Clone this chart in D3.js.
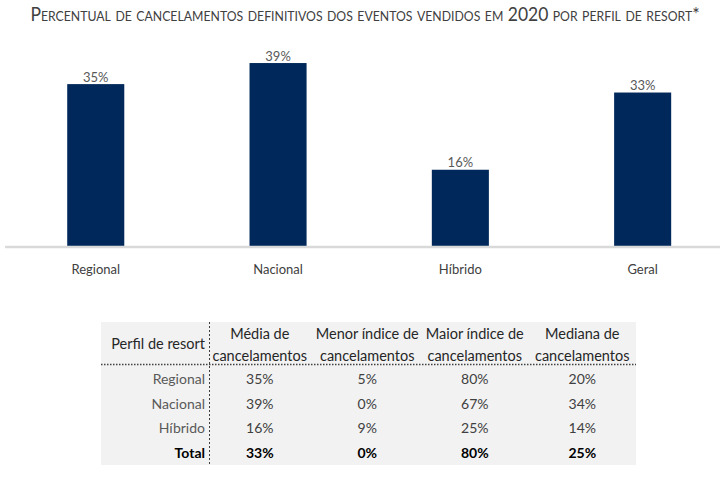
<!DOCTYPE html>
<html><head><meta charset="utf-8">
<script src="https://cdn.jsdelivr.net/npm/d3@7"></script>
<style>
body{margin:0;background:#fff;}
svg{display:block;font-family:Lato,"Open Sans",sans-serif;}
</style></head>
<body>
<svg id="chart" width="720" height="480"></svg>
<script>
const titleText = "Percentual de cancelamentos definitivos dos eventos vendidos em 2020 por perfil de resort*";
const categories = ["Regional","Nacional","Híbrido","Geral"];
const barValues = [0.347, 0.392, 0.164, 0.329];

const tableRowLabels = ["Regional","Nacional","Híbrido","Total"];
const tableFirstHeader = "Perfil de resort";
const tableColumns = [["Média de","cancelamentos"],["Menor índice de","cancelamentos"],["Maior índice de","cancelamentos"],["Mediana de","cancelamentos"]];
const mediaValues = [0.35, 0.39, 0.16, 0.33];
const menorValues = [0.05, 0.00, 0.09, 0.00];
const maiorValues = [0.80, 0.67, 0.25, 0.80];
const medianaValues = [0.20, 0.34, 0.14, 0.25];

const svg = d3.select("#chart");
const pct = d3.format(".0%");

// Title (scaled horizontally to fit the reference width)
const titleG = svg.append("g");
const title = titleG.append("text")
  .attr("x", 0).attr("y", 0)
  .attr("text-anchor","middle")
  .attr("font-size", 19.5)
  .attr("font-variant","small-caps")
  .attr("fill","#404040")
  .text(titleText);
const natW = title.node().getComputedTextLength() || 682;
titleG.attr("transform", `translate(365,21) scale(${682 / natW},1)`);

// Bars
const x = d3.scaleBand().domain(categories).range([4.6, 733.8]).paddingInner(0.687).paddingOuter(0.3435);
const y = d3.scaleLinear().domain([0, 0.4]).range([246.5, 59.3]);

const bars = svg.append("g");
bars.selectAll("rect").data(categories).join("rect")
  .attr("x", d => x(d))
  .attr("y", (d,i) => y(barValues[i]))
  .attr("width", x.bandwidth())
  .attr("height", (d,i) => y(0) - y(barValues[i]))
  .attr("fill", "#00285a");

bars.selectAll("text").data(categories).join("text")
  .attr("x", d => x(d) + x.bandwidth()/2)
  .attr("y", (d,i) => y(barValues[i]) - 2.5)
  .attr("text-anchor","middle")
  .attr("font-size", 13)
  .attr("fill","#595959")
  .text((d,i) => pct(barValues[i]));

const xAxis = svg.append("g")
  .attr("transform", `translate(0,${y(0)})`)
  .call(d3.axisBottom(x).tickSize(0).tickPadding(18));
xAxis.select(".domain").attr("stroke","#d9d9d9").attr("stroke-width",2.5);
xAxis.selectAll("text").attr("font-size",13).attr("fill","#404040").attr("font-family","Lato, sans-serif");

// Table
const tLeft = 101, tRight = 636, tTop = 322, tBottom = 465, headerBottom = 364.5, divX = 209.5;
svg.append("rect").attr("x", tLeft).attr("y", tTop).attr("width", tRight - tLeft).attr("height", tBottom - tTop).attr("fill","#f2f2f2");

const colX = d3.scaleBand().domain(d3.range(tableColumns.length)).range([206, 636]);
const rowY = d3.scaleBand().domain(tableRowLabels).range([367, 465]);

svg.append("line").attr("x1", tLeft).attr("x2", tRight).attr("y1", headerBottom).attr("y2", headerBottom)
  .attr("stroke","#404040").attr("stroke-width",1.5).attr("stroke-dasharray","1.5,1.5");
svg.append("line").attr("x1", divX).attr("x2", divX).attr("y1", tTop).attr("y2", tBottom)
  .attr("stroke","#404040").attr("stroke-width",1).attr("stroke-dasharray","2,2");

svg.append("text").attr("x", 205).attr("y", 344).attr("dy","0.35em")
  .attr("text-anchor","end").attr("font-size",14.5).attr("fill","#262626")
  .text(tableFirstHeader);

const hdr = svg.append("g").selectAll("text").data(tableColumns).join("text")
  .attr("text-anchor","middle").attr("font-size",14.5).attr("fill","#262626");
hdr.append("tspan").attr("x",(d,i)=>colX(i)+colX.bandwidth()/2).attr("y",334).attr("dy","0.35em").text(d=>d[0]);
hdr.append("tspan").attr("x",(d,i)=>colX(i)+colX.bandwidth()/2).attr("y",355.5).attr("dy","0.35em").text(d=>d[1]);

svg.append("g").selectAll("text").data(tableRowLabels).join("text")
  .attr("x", 205).attr("y", d => rowY(d) + rowY.bandwidth()/2).attr("dy","0.35em")
  .attr("text-anchor","end").attr("font-size",14)
  .attr("font-weight", d => d === "Total" ? "bold" : "normal")
  .attr("fill", d => d === "Total" ? "#000" : "#595959")
  .text(d => d);

const cols = [mediaValues, menorValues, maiorValues, medianaValues];
cols.forEach((vals, ci) => {
  svg.append("g").selectAll("text").data(vals).join("text")
    .attr("x", colX(ci) + colX.bandwidth()/2)
    .attr("y", (d,ri) => rowY(tableRowLabels[ri]) + rowY.bandwidth()/2)
    .attr("dy","0.35em").attr("text-anchor","middle").attr("font-size",14)
    .attr("font-weight", (d,ri) => tableRowLabels[ri] === "Total" ? "bold" : "normal")
    .attr("fill", (d,ri) => tableRowLabels[ri] === "Total" ? "#000" : "#404040")
    .text(d => pct(d));
});
</script>
</body></html>
